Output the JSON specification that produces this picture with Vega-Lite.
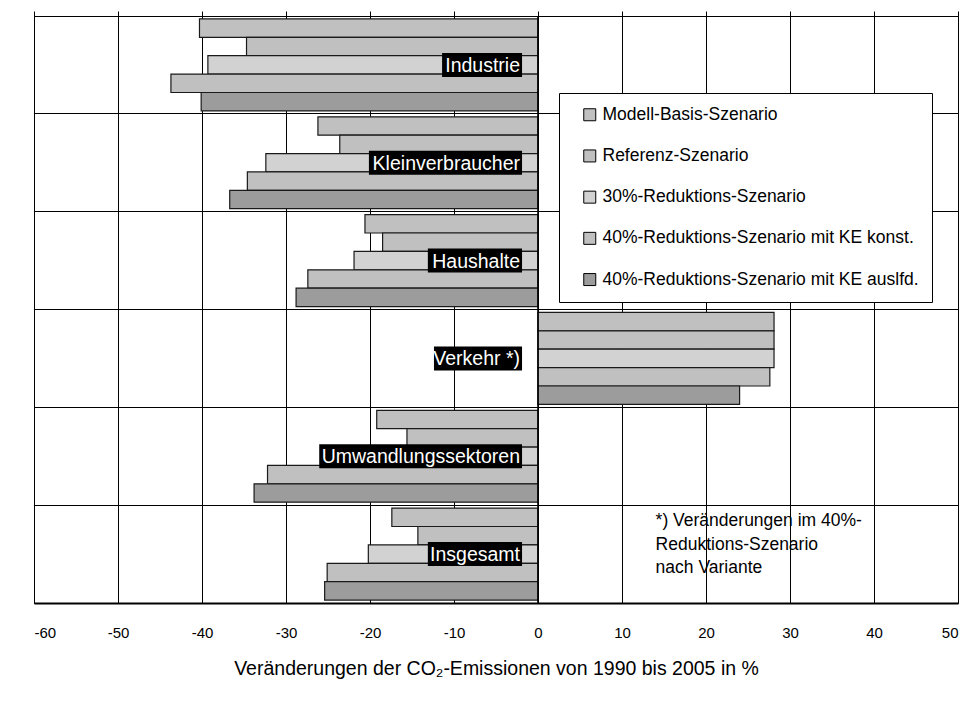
{
  "$schema": "https://vega.github.io/schema/vega-lite/v6.json",
  "width": 924,
  "height": 587,
  "autosize": {"type": "none"},
  "padding": {"left": 34, "top": 16, "right": 16, "bottom": 99},
  "background": "white",
  "config": {
    "font": "Liberation Sans",
    "view": {"stroke": "#000", "strokeWidth": 1},
    "axis": {"labelColor": "#000", "titleColor": "#000", "labelFont": "Liberation Sans", "titleFont": "Liberation Sans"}
  },
  "datasets": {
    "rows": [
      {"sector": "Industrie", "scenario": "Modell-Basis-Szenario", "value": -40.3},
      {"sector": "Industrie", "scenario": "Referenz-Szenario", "value": -34.7},
      {"sector": "Industrie", "scenario": "30%-Reduktions-Szenario", "value": -39.3},
      {"sector": "Industrie", "scenario": "40%-Reduktions-Szenario mit KE konst.", "value": -43.7},
      {"sector": "Industrie", "scenario": "40%-Reduktions-Szenario mit KE auslfd.", "value": -40.1},
      {"sector": "Kleinverbraucher", "scenario": "Modell-Basis-Szenario", "value": -26.2},
      {"sector": "Kleinverbraucher", "scenario": "Referenz-Szenario", "value": -23.6},
      {"sector": "Kleinverbraucher", "scenario": "30%-Reduktions-Szenario", "value": -32.4},
      {"sector": "Kleinverbraucher", "scenario": "40%-Reduktions-Szenario mit KE konst.", "value": -34.6},
      {"sector": "Kleinverbraucher", "scenario": "40%-Reduktions-Szenario mit KE auslfd.", "value": -36.7},
      {"sector": "Haushalte", "scenario": "Modell-Basis-Szenario", "value": -20.6},
      {"sector": "Haushalte", "scenario": "Referenz-Szenario", "value": -18.5},
      {"sector": "Haushalte", "scenario": "30%-Reduktions-Szenario", "value": -21.9},
      {"sector": "Haushalte", "scenario": "40%-Reduktions-Szenario mit KE konst.", "value": -27.4},
      {"sector": "Haushalte", "scenario": "40%-Reduktions-Szenario mit KE auslfd.", "value": -28.8},
      {"sector": "Verkehr *)", "scenario": "Modell-Basis-Szenario", "value": 28.1},
      {"sector": "Verkehr *)", "scenario": "Referenz-Szenario", "value": 28.1},
      {"sector": "Verkehr *)", "scenario": "30%-Reduktions-Szenario", "value": 28.1},
      {"sector": "Verkehr *)", "scenario": "40%-Reduktions-Szenario mit KE konst.", "value": 27.6},
      {"sector": "Verkehr *)", "scenario": "40%-Reduktions-Szenario mit KE auslfd.", "value": 24.0},
      {"sector": "Umwandlungssektoren", "scenario": "Modell-Basis-Szenario", "value": -19.2},
      {"sector": "Umwandlungssektoren", "scenario": "Referenz-Szenario", "value": -15.6},
      {"sector": "Umwandlungssektoren", "scenario": "30%-Reduktions-Szenario", "value": -22.0},
      {"sector": "Umwandlungssektoren", "scenario": "40%-Reduktions-Szenario mit KE konst.", "value": -32.2},
      {"sector": "Umwandlungssektoren", "scenario": "40%-Reduktions-Szenario mit KE auslfd.", "value": -33.8},
      {"sector": "Insgesamt", "scenario": "Modell-Basis-Szenario", "value": -17.4},
      {"sector": "Insgesamt", "scenario": "Referenz-Szenario", "value": -14.3},
      {"sector": "Insgesamt", "scenario": "30%-Reduktions-Szenario", "value": -20.2},
      {"sector": "Insgesamt", "scenario": "40%-Reduktions-Szenario mit KE konst.", "value": -25.1},
      {"sector": "Insgesamt", "scenario": "40%-Reduktions-Szenario mit KE auslfd.", "value": -25.4}
    ],
    "note": [
      {"line1": "*) Veränderungen im 40%-", "line2": "Reduktions-Szenario", "line3": "nach Variante"}
    ]
  },
  "data": {"name": "rows"},
  "layer": [
    {
      "mark": {"type": "bar", "stroke": "#1a1a1a", "strokeWidth": 1.2},
      "encoding": {
        "x": {
          "field": "value", "type": "quantitative",
          "scale": {"domain": [-60, 50], "nice": false, "zero": false},
          "axis": {
            "orient": "bottom",
            "values": [-60, -50, -40, -30, -20, -10, 0, 10, 20, 30, 40, 50],
            "labelExpr": "'' + datum.value",
            "grid": true, "gridColor": "#000", "gridOpacity": 1, "gridWidth": 1,
            "ticks": false, "labelFontSize": 15, "labelPadding": 22,
            "domainColor": "#000", "domainWidth": 2,
            "title": "Veränderungen der CO₂-Emissionen von 1990 bis 2005 in %",
            "titleFontSize": 19.5, "titleFontWeight": "normal", "titlePadding": 19
          }
        },
        "y": {
          "field": "sector", "type": "nominal",
          "sort": ["Industrie", "Kleinverbraucher", "Haushalte", "Verkehr *)", "Umwandlungssektoren", "Insgesamt"],
          "scale": {"paddingInner": 0, "paddingOuter": 0},
          "axis": {"title": null, "labels": false, "ticks": false, "domain": false, "grid": true, "gridColor": "#000", "gridOpacity": 1, "bandPosition": 0}
        },
        "yOffset": {
          "field": "scenario", "type": "nominal",
          "sort": ["Modell-Basis-Szenario", "Referenz-Szenario", "30%-Reduktions-Szenario", "40%-Reduktions-Szenario mit KE konst.", "40%-Reduktions-Szenario mit KE auslfd."],
          "scale": {"paddingInner": 0, "paddingOuter": 0.16}
        },
        "fill": {
          "field": "scenario", "type": "nominal",
          "scale": {
            "domain": ["Modell-Basis-Szenario", "Referenz-Szenario", "30%-Reduktions-Szenario", "40%-Reduktions-Szenario mit KE konst.", "40%-Reduktions-Szenario mit KE auslfd."],
            "range": ["#c0c0c0", "#c0c0c0", "#d2d2d2", "#c0c0c0", "#9c9c9c"]
          },
          "legend": {
            "title": null, "orient": "none", "legendX": 525, "legendY": 77, "direction": "vertical",
            "symbolType": "square", "symbolSize": 144, "symbolStrokeColor": "#000", "symbolStrokeWidth": 1,
            "labelFontSize": 17.5, "labelFont": "Liberation Sans", "labelColor": "#000", "labelOffset": 4,
            "rowPadding": 22.2, "padding": 13, "symbolOffset": 9, "strokeColor": "#000", "fillColor": "#fff", "labelLimit": 400
          }
        }
      }
    },
    {
      "data": {"name": "note"},
      "mark": {"type": "rule", "color": "#000", "strokeWidth": 1.6},
      "encoding": {
        "x": {
          "datum": 0, "type": "quantitative",
          "axis": {"orient": "top", "values": [-60, -50, -40, -30, -20, -10, 0, 10, 20, 30, 40, 50], "labels": false, "ticks": true, "tickSize": 5, "tickColor": "#000", "domain": false, "grid": false, "title": null}
        }
      }
    },
    {
      "transform": [
        {"filter": "datum.scenario === 'Modell-Basis-Szenario'"},
        {"calculate": "(0.556*length(datum.sector) - 0.29*length(replace(datum.sector, regexp('[^iltrIfj *)]','g'), '')) + 0.15*length(replace(datum.sector, regexp('[^mwUKHVM]','g'), '')))*19.5 + 5", "as": "boxw"},
        {"calculate": "-1.9 - datum.boxw/8.4", "as": "boxl"}
      ],
      "mark": {"type": "bar", "color": "#000", "size": 24},
      "encoding": {
        "y": {"field": "sector", "type": "nominal", "sort": ["Industrie", "Kleinverbraucher", "Haushalte", "Verkehr *)", "Umwandlungssektoren", "Insgesamt"]},
        "x": {"field": "boxl", "type": "quantitative", "axis": null},
        "x2": {"datum": -1.9}
      }
    },
    {
      "transform": [{"filter": "datum.scenario === 'Modell-Basis-Szenario'"}],
      "mark": {"type": "text", "align": "right", "baseline": "middle", "color": "#fff", "fontSize": 19.5, "font": "Liberation Sans", "dx": -2, "dy": 1},
      "encoding": {
        "y": {"field": "sector", "type": "nominal", "sort": ["Industrie", "Kleinverbraucher", "Haushalte", "Verkehr *)", "Umwandlungssektoren", "Insgesamt"]},
        "x": {"datum": -1.9, "type": "quantitative", "axis": null},
        "text": {"field": "sector"}
      }
    },
    {
      "data": {"name": "note"},
      "transform": [{"calculate": "[datum.line1, datum.line2, datum.line3]", "as": "lines"}],
      "mark": {"type": "text", "align": "left", "baseline": "middle", "fontSize": 17.5, "font": "Liberation Sans", "lineHeight": 23.5, "color": "#000", "dy": -33},
      "encoding": {
        "x": {"datum": 14, "type": "quantitative", "axis": null},
        "y": {"datum": "Insgesamt", "type": "nominal"},
        "text": {"field": "lines"}
      }
    }
  ],
  "resolve": {"axis": {"x": "independent"}}
}
